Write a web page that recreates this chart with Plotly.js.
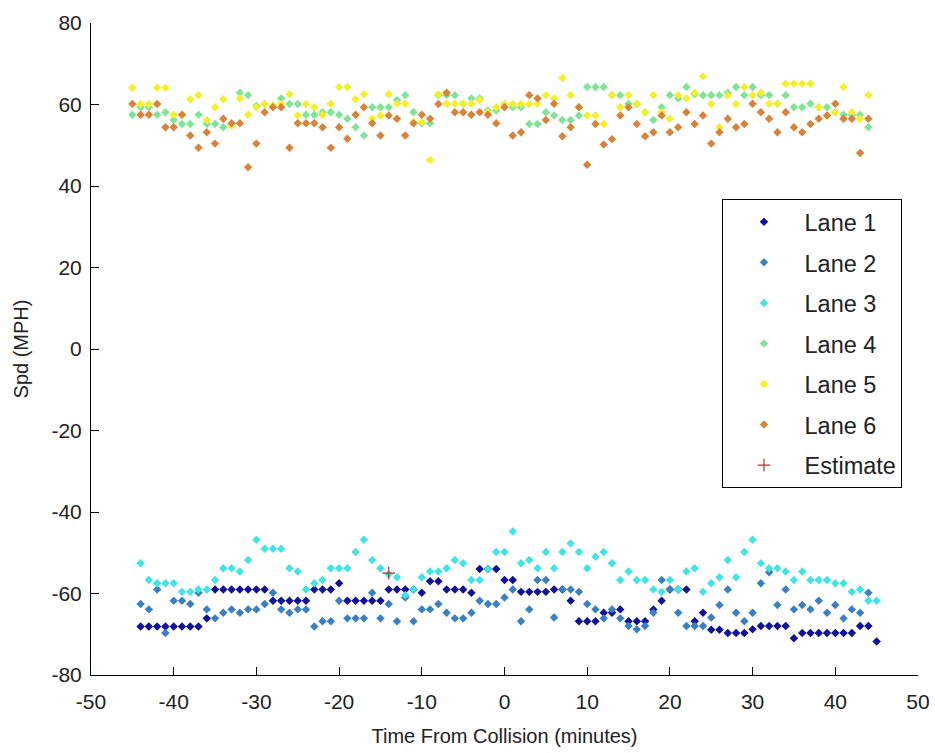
<!DOCTYPE html>
<html>
<head>
<meta charset="utf-8">
<script src="https://cdn.plot.ly/plotly-3.0.1.min.js"></script>
<style>html,body{margin:0;padding:0;background:#fff;}#chart{width:935px;height:753px;}</style>
</head>
<body>
<div id="chart"></div>
<script>
// Time (minutes) for the lower band (lanes 1-3) and upper band (lanes 4-6)
const timeLower = [-44,-43,-42,-41,-40,-39,-38,-37,-36,-35,-34,-33,-32,-31,-30,-29,-28,-27,-26,-25,-24,-23,-22,-21,-20,-19,-18,-17,-16,-15,-14,-13,-12,-11,-10,-9,-8,-7,-6,-5,-4,-3,-2,-1,0,1,2,3,4,5,6,7,8,9,10,11,12,13,14,15,16,17,18,19,20,21,22,23,24,25,26,27,28,29,30,31,32,33,34,35,36,37,38,39,40,41,42,43,44,45];
const timeUpper = [-45,-44,-43,-42,-41,-40,-39,-38,-37,-36,-35,-34,-33,-32,-31,-30,-29,-28,-27,-26,-25,-24,-23,-22,-21,-20,-19,-18,-17,-16,-15,-14,-13,-12,-11,-10,-9,-8,-7,-6,-5,-4,-3,-2,-1,0,1,2,3,4,5,6,7,8,9,10,11,12,13,14,15,16,17,18,19,20,21,22,23,24,25,26,27,28,29,30,31,32,33,34,35,36,37,38,39,40,41,42,43,44];

const lane1 = [-68.1,-68.1,-68.1,-68.1,-68.1,-68.1,-68.1,-68.1,-66.1,-59.0,-59.0,-59.0,-59.0,-59.0,-59.0,-59.0,-61.8,-61.8,-61.8,-61.8,-61.8,-59.0,-59.0,-59.0,-57.5,-61.8,-61.8,-61.8,-61.8,-61.8,-59.0,-59.0,-59.0,-59.0,-59.8,-57.0,-57.0,-59.0,-59.0,-59.0,-59.8,-54.0,-54.0,-54.0,-56.7,-56.7,-59.6,-59.6,-59.6,-59.6,-59.0,-59.0,-61.8,-66.8,-66.8,-66.8,-64.7,-64.7,-63.9,-66.8,-66.8,-66.8,-63.9,-61.8,-59.0,-59.0,-59.0,-66.8,-64.7,-68.9,-68.9,-69.7,-69.7,-69.7,-68.8,-68.0,-68.0,-68.0,-68.0,-71.0,-69.7,-69.7,-69.7,-69.7,-69.7,-69.7,-69.7,-68.0,-68.0,-71.8];
const lane2 = [-62.6,-63.9,-59.0,-69.7,-61.8,-61.8,-62.6,-59.8,-63.9,-66.1,-64.7,-63.9,-64.7,-63.9,-63.9,-62.6,-59.8,-63.9,-64.7,-63.9,-63.9,-68.1,-66.8,-66.8,-61.8,-66.1,-66.1,-66.1,-59.8,-66.1,-62.6,-66.8,-61.0,-66.8,-63.9,-63.9,-62.6,-64.7,-66.1,-66.1,-64.7,-61.8,-62.6,-62.6,-61.0,-59.0,-66.8,-63.9,-56.7,-56.7,-65.9,-59.0,-59.0,-59.6,-62.6,-63.9,-66.1,-63.9,-66.1,-68.0,-68.8,-68.0,-64.7,-56.7,-59.0,-64.7,-68.0,-68.0,-68.0,-65.9,-62.8,-59.0,-64.7,-66.8,-64.7,-57.5,-54.8,-62.8,-59.0,-63.9,-62.8,-63.9,-61.8,-64.7,-62.8,-66.1,-63.9,-64.7,-59.8,null];
const lane3 = [-52.6,-56.7,-57.5,-57.5,-57.5,-59.6,-59.6,-59.0,-59.0,-56.7,-53.8,-53.8,-54.6,-51.8,-46.8,-49.0,-49.0,-49.0,-53.8,-54.6,-59.0,-57.5,-56.7,-53.8,-53.8,-53.8,-49.8,-46.8,-51.8,-53.8,-55.3,-56.0,-60.4,-59.0,-56.0,-54.6,-54.6,-53.8,-51.8,-52.6,-56.7,-56.7,-54.0,-49.8,-49.8,-44.8,-52.6,-51.8,-53.8,-49.8,-53.8,-49.8,-47.7,-49.8,-53.8,-51.0,-49.8,-52.6,-56.7,-54.6,-56.7,-56.7,-59.0,-59.6,-56.7,-59.0,-54.6,-53.8,-59.6,-57.5,-56.0,-51.8,-56.0,-49.8,-46.8,-52.6,-53.8,-53.8,-54.6,-56.7,-54.6,-56.7,-56.7,-56.7,-57.5,-57.5,-59.6,-59.0,-61.8,-61.8];
const lane4 = [57.5,59.3,59.3,57.5,58.1,56.2,55.2,55.2,57.5,55.2,55.2,54.4,55.2,62.9,62.3,59.7,60.1,59.7,61.5,60.1,60.1,57.5,57.5,58.1,58.1,57.5,56.5,54.4,52.4,59.3,59.3,59.3,61.1,62.3,58.1,55.4,55.4,62.3,62.3,62.3,60.2,61.5,61.5,58.5,58.5,60.1,59.3,59.3,55.2,55.2,58.1,57.3,56.2,56.2,57.3,64.3,64.3,64.3,62.3,62.3,60.2,60.1,58.1,56.2,59.3,62.3,61.5,64.3,62.5,62.3,62.3,62.3,62.9,64.3,62.3,64.3,62.3,62.3,60.2,62.3,59.3,59.3,60.2,59.3,59.3,58.1,57.5,57.5,57.5,54.4];
const lane5 = [64.1,60.1,60.1,64.1,64.1,57.5,57.5,61.3,62.3,56.2,59.3,61.3,54.8,61.5,57.5,59.3,60.1,59.7,60.1,62.5,57.3,60.1,59.3,57.5,60.2,64.3,64.3,61.3,62.5,56.5,57.3,62.5,60.2,60.2,55.7,55.7,46.4,62.5,60.2,60.2,60.2,60.2,61.1,58.1,59.3,60.1,60.1,60.1,60.1,60.2,62.3,61.5,66.5,62.3,59.3,57.3,57.3,55.2,62.3,59.3,62.3,60.1,58.1,62.3,58.1,56.5,62.3,61.5,62.9,66.9,60.1,54.4,62.3,60.1,64.3,62.3,62.9,60.2,60.2,65.1,65.1,65.1,65.1,59.3,57.3,58.1,64.3,58.1,56.5,62.3];
const lane6 = [60.1,57.5,57.5,60.1,54.4,54.4,57.5,52.4,49.4,53.2,50.4,56.5,55.4,55.4,44.6,50.4,58.1,59.3,59.3,49.4,55.4,55.4,55.4,54.4,49.4,54.4,51.6,57.5,59.3,55.4,52.4,57.3,56.5,52.4,55.4,57.5,56.5,60.1,62.9,58.1,58.1,57.5,58.1,57.5,55.4,59.3,52.4,53.2,62.3,61.5,56.2,60.2,52.2,54.4,59.3,45.2,55.2,50.2,51.5,57.3,59.3,55.2,52.2,53.2,57.3,53.2,54.4,58.1,55.2,57.3,50.4,53.2,56.5,54.4,55.2,60.2,58.1,56.5,53.2,58.1,54.4,53.2,55.2,56.5,57.3,60.2,56.5,56.5,48.1,56.5];
const estimateTime = [-14];
const estimateSpd = [-55];

const laneNames = ['Lane 1','Lane 2','Lane 3','Lane 4','Lane 5','Lane 6'];
const xTickVals = [-50,-40,-30,-20,-10,0,10,20,30,40,50];
const xTickText = ['-50','-40','-30','-20','-10','0','10','20','30','40','50'];
const yTickVals = [-80,-60,-40,-20,0,20,40,60,80];
const yTickText = ['-80','-60','-40','-20','0','20','40','60','80'];

const laneColors = ['#10109a','#3a80c0','#40e4e4','#80e496','#f4f028','#d8823a'];
const laneData = [lane1, lane2, lane3, lane4, lane5, lane6];
const laneTimes = [timeLower, timeLower, timeLower, timeUpper, timeUpper, timeUpper];

const fam = '"Liberation Sans", Arial, sans-serif';
const textColor = '#222';

const traces = laneData.map((ys, i) => ({
  type: 'scatter', mode: 'markers', name: laneNames[i],
  x: laneTimes[i], y: ys, legendgroup: 'g' + i,
  marker: {symbol: 'diamond', size: 6.5, color: laneColors[i], line: {width: 0}}
}));
traces.push({
  type: 'scatter', mode: 'markers', name: 'Estimate',
  x: estimateTime, y: estimateSpd, legendgroup: 'g6',
  marker: {symbol: 'cross-thin-open', size: 9, color: '#b03030', line: {width: 1.2, color: '#b03030'}}
});

const layout = {
  width: 935, height: 753,
  margin: {l: 91, r: 17, t: 23, b: 78},
  paper_bgcolor: '#fff', plot_bgcolor: '#fff',
  font: {family: fam, size: 20, color: textColor},
  showlegend: true,
  legend: {
    x: 0.7636, y: 0.730, xanchor: 'left', yanchor: 'top',
    bgcolor: '#fff', bordercolor: '#000', borderwidth: 1,
    font: {family: fam, size: 23.5, color: textColor},
    tracegroupgap: 7, itemwidth: 71
  },
  xaxis: {
    range: [-50, 50], tickmode: 'array', tickvals: xTickVals, ticktext: xTickText,
    ticks: 'inside', ticklen: 8, tickcolor: '#000',
    showline: true, linecolor: '#000', linewidth: 1, mirror: false,
    showgrid: false, zeroline: false,
    tickfont: {family: fam, size: 21, color: textColor},
    ticklabelstandoff: 8,
    title: {text: 'Time From Collision (minutes)', font: {family: fam, size: 20, color: textColor}, standoff: 16}
  },
  yaxis: {
    range: [-80, 80], tickmode: 'array', tickvals: yTickVals, ticktext: yTickText,
    ticks: 'inside', ticklen: 8, tickcolor: '#000',
    showline: true, linecolor: '#000', linewidth: 1, mirror: false,
    showgrid: false, zeroline: false,
    tickfont: {family: fam, size: 21, color: textColor},
    ticklabelstandoff: 4,
    title: {text: 'Spd (MPH)', font: {family: fam, size: 20, color: textColor}, standoff: 17}
  }
};

Plotly.newPlot('chart', traces, layout, {displayModeBar: false, staticPlot: true});
</script>
</body>
</html>
